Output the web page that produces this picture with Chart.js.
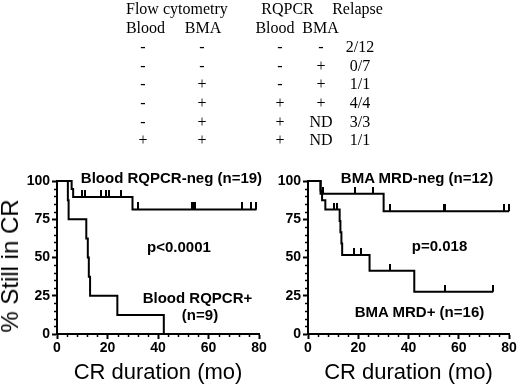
<!DOCTYPE html>
<html>
<head>
<meta charset="utf-8">
<script src="https://cdn.jsdelivr.net/npm/chart.js@4.4.1/dist/chart.umd.min.js"></script>
<style>
body { margin: 0; background: #fff; }
#wrap { position: relative; width: 520px; height: 387px; overflow: hidden; }
canvas { position: absolute; left: 0; top: 0; }
.t { position: absolute; white-space: nowrap; line-height: 18px; color: #000; }
.tab { font-family: "Liberation Serif", "Times New Roman", serif; font-size: 16px; }
.mid { transform: translateX(-50%); }
.ann { font-family: "Liberation Sans", Arial, sans-serif; font-weight: bold; font-size: 15px; }
.ttl { font-family: "Liberation Sans", Arial, sans-serif; font-size: 22px; line-height: 26px; }
</style>
</head>
<body>
<div id="wrap">
  <canvas id="leftChart" width="520" height="387"></canvas>
  <canvas id="rightChart" width="520" height="387"></canvas>
</div>
<script>
// table above the plots
const flowBlood = ['-', '-', '-', '-', '-', '+'];
const flowBMA = ['-', '-', '+', '+', '+', '+'];
const pcrBlood = ['-', '-', '-', '+', '+', '+'];
const pcrBMA = ['-', '+', '+', '+', 'ND', 'ND'];
const relapse = ['2/12', '0/7', '1/1', '4/4', '3/3', '1/1'];

// Blood RQPCR panel
const bloodNegTime = [0, 5.8, 6.4, 29.9, 79];
const bloodNegPct = [100, 94.7, 89.5, 81.4, 81.4];
const bloodNegCens = [9.8, 11.1, 17.6, 19.4, 20.7, 25.3, 31.9, 53.6, 54.0, 54.5, 73.4, 77, 79];
const bloodPosTime = [0, 4.3, 4.6, 11.6, 12.2, 12.6, 13.1, 23.9, 42.3];
const bloodPosPct = [100, 87.5, 75, 62.5, 50, 37.5, 25, 12.5, 0];

// BMA MRD panel
const mrdNegTime = [0, 5.0, 30.1, 80];
const mrdNegPct = [100, 91.7, 80.2, 80.2];
const mrdNegCens = [5.8, 18.8, 25.7, 32.5, 54.0, 54.6, 78, 80];
const mrdPosTime = [0, 5.0, 5.6, 6.9, 12.6, 12.9, 13.3, 13.6, 24.5, 42.3, 73.7];
const mrdPosPct = [100, 93.8, 87.5, 81.3, 73.9, 66.5, 59.1, 51.7, 41.4, 27.6, 27.6];
const mrdPosCens = [10.2, 11.5, 18.2, 21.1, 32.5, 54.7, 73.7];

const xTicks = [0, 20, 40, 60, 80];
const yTicks = [0, 25, 50, 75, 100];

const wrap = document.getElementById('wrap');

function addText(cls, text, x, y, center) {
    const d = document.createElement('div');
    d.className = 't ' + cls + (center ? ' mid' : '');
    d.textContent = text;
    d.style.left = x + 'px';
    d.style.top = (y - 9) + 'px';
    wrap.appendChild(d);
    return d;
}

// table text
addText('tab', 'Flow cytometry', 126, 9, false);
addText('tab', 'RQPCR', 287.5, 9, true);
addText('tab', 'Relapse', 357.5, 9, true);
addText('tab', 'Blood', 145.5, 28, true);
addText('tab', 'BMA', 203, 28, true);
addText('tab', 'Blood', 275, 28, true);
addText('tab', 'BMA', 320.5, 28, true);
const colX = [143, 202, 280, 321, 360];
const rowY = [47, 65.5, 84, 103, 121.5, 140];
[flowBlood, flowBMA, pcrBlood, pcrBMA, relapse].forEach((col, c) => {
    col.forEach((v, r) => addText('tab', v, colX[c], rowY[r], true));
});

// annotations
addText('ann', 'Blood RQPCR-neg (n=19)', 171.5, 178, true);
addText('ann', 'p<0.0001', 179, 247, true);
addText('ann', 'Blood RQPCR+', 197.5, 298, true);
addText('ann', '(n=9)', 200, 315, true);
addText('ann', 'BMA MRD-neg (n=12)', 417, 178, true);
addText('ann', 'p=0.018', 439.5, 246, true);
addText('ann', 'BMA MRD+ (n=16)', 419.5, 312, true);

// axis titles
const xt1 = addText('ttl', 'CR duration (mo)', 158, 372, true);
xt1.style.top = (372 - 13) + 'px';
const xt2 = addText('ttl', 'CR duration (mo)', 408.5, 372, true);
xt2.style.top = (372 - 13) + 'px';
const yt = document.createElement('div');
yt.className = 't';
yt.style.cssText = 'font-family:"Liberation Sans",Arial,sans-serif;font-size:24px;line-height:24px;left:10px;top:266px;transform:translate(-50%,-50%) rotate(-90deg);';
yt.textContent = '% Still in CR';
wrap.appendChild(yt);

// censor mark: short vertical stroke above the curve
const censorMark = document.createElement('canvas');
censorMark.width = 2;
censorMark.height = 14;
const cm = censorMark.getContext('2d');
cm.fillStyle = '#000';
cm.fillRect(0, 0, 2, 7);

function survAt(times, pct, t) {
    let v = pct[0];
    for (let i = 0; i < times.length; i++) {
        if (times[i] <= t) v = pct[i];
    }
    return v;
}

function curve(times, pct) {
    return {
        data: times.map((t, i) => ({ x: t, y: pct[i] })),
        stepped: true,
        borderColor: '#000',
        borderWidth: 2,
        pointRadius: 0,
        fill: false,
        clip: false
    };
}

function censors(cens, times, pct) {
    return {
        data: cens.map(t => ({ x: t, y: survAt(times, pct, t) })),
        showLine: false,
        pointStyle: censorMark,
        pointRadius: 4,
        clip: false
    };
}

const minorTicks = {
    id: 'minorTicks',
    afterDraw(chart) {
        const { ctx, chartArea, scales: { x, y } } = chart;
        ctx.save();
        ctx.strokeStyle = '#000';
        ctx.lineWidth = 1.5;
        for (let v = 5; v < 100; v += 5) {
            if (v % 25 === 0) continue;
            const py = Math.round(y.getPixelForValue(v)) + 0.5;
            ctx.beginPath();
            ctx.moveTo(chartArea.left - 3, py);
            ctx.lineTo(chartArea.left, py);
            ctx.stroke();
        }
        for (let v = 4; v < 80; v += 4) {
            if (v % 20 === 0) continue;
            const px = Math.round(x.getPixelForValue(v)) + 0.5;
            ctx.beginPath();
            ctx.moveTo(px, chartArea.bottom);
            ctx.lineTo(px, chartArea.bottom + 3);
            ctx.stroke();
        }
        ctx.restore();
    }
};

const tickFont = { family: '"Liberation Sans", Arial, sans-serif', size: 14, weight: 'bold' };

function makeChart(id, areaLeft, areaRight, datasets) {
    return new Chart(document.getElementById(id), {
        type: 'line',
        data: { datasets: datasets },
        plugins: [minorTicks],
        options: {
            responsive: false,
            animation: false,
            devicePixelRatio: 1,
            layout: { padding: { left: areaLeft - 57, right: 520 - areaRight, top: 181, bottom: 0 } },
            plugins: { legend: { display: false }, tooltip: { enabled: false } },
            scales: {
                x: {
                    type: 'linear',
                    min: 0,
                    max: 80,
                    afterFit: s => { s.height = 53; },
                    afterBuildTicks: s => { s.ticks = xTicks.map(v => ({ value: v })); },
                    ticks: { color: '#000', font: tickFont, padding: 1, maxRotation: 0 },
                    grid: { drawOnChartArea: false, drawTicks: true, tickLength: 5, tickWidth: 2, tickColor: '#000' },
                    border: { color: '#000', width: 2 }
                },
                y: {
                    min: 0,
                    max: 100,
                    afterFit: s => { s.width = 57; },
                    afterBuildTicks: s => { s.ticks = yTicks.map(v => ({ value: v })); },
                    ticks: { color: '#000', font: tickFont, padding: 2 },
                    grid: { drawOnChartArea: false, drawTicks: true, tickLength: 5, tickWidth: 2, tickColor: '#000' },
                    border: { color: '#000', width: 2 }
                }
            }
        }
    });
}

makeChart('leftChart', 57, 259, [
    curve(bloodNegTime, bloodNegPct),
    censors(bloodNegCens, bloodNegTime, bloodNegPct),
    curve(bloodPosTime, bloodPosPct)
]);

makeChart('rightChart', 308, 509, [
    curve(mrdNegTime, mrdNegPct),
    censors(mrdNegCens, mrdNegTime, mrdNegPct),
    curve(mrdPosTime, mrdPosPct),
    censors(mrdPosCens, mrdPosTime, mrdPosPct)
]);
</script>
</body>
</html>
